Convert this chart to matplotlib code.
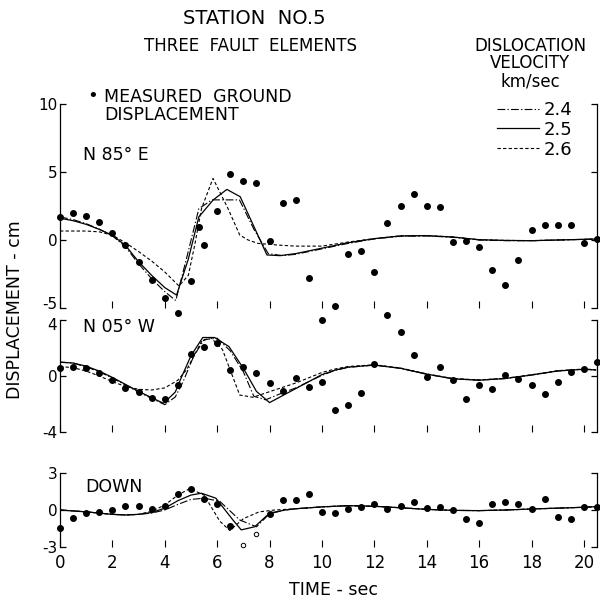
import matplotlib
matplotlib.use("Agg")
import matplotlib.pyplot as plt
import matplotlib.transforms as mtransforms
import numpy as np

plt.rcParams['font.family'] = ['DejaVu Sans']

# ---------------- data ----------------
t_meas = [0.0, 0.5, 1.0, 1.5, 2.0, 2.5, 3.0, 3.5, 4.0, 4.5, 5.0, 5.5, 6.0, 6.5,
          7.0, 7.5, 8.0, 8.5, 9.0, 9.5, 10.0, 10.5, 11.0, 11.5, 12.0, 12.5, 13.0,
          13.5, 14.0, 14.5, 15.0, 15.5, 16.0, 16.5, 17.0, 17.5, 18.0, 18.5, 19.0,
          19.5, 20.0, 20.5]

meas_n85e = [1.67, 1.96, 1.76, 1.3, 0.54, -0.37, -1.64, -2.94, -4.26, -5.37,
             -2.99, -0.39, 2.13, 4.83, 4.34, 4.21, -0.1, 2.7, 2.96, -2.77, -5.88,
             -4.85, -1.03, -0.81, -2.38, 1.27, 2.47, 3.36, 2.5, 2.4, -0.17, -0.05,
             -0.49, -2.18, -3.31, -1.49, 0.71, 1.13, 1.08, 1.1, -0.24, 0.07]
extra_t_n85e = [5.3]
extra_v_n85e = [0.93]

meas_n05w = [0.6, 0.62, 0.55, 0.21, -0.26, -0.83, -1.12, -1.55, -1.62, -0.67,
             1.55, 2.07, 2.36, 0.45, 0.64, 0.21, -0.48, -1.05, -0.17, -0.76, -0.43,
             -2.45, -2.05, -1.24, 0.88, 4.36, 3.12, 1.48, -0.05, 0.64, -0.31, -1.64,
             -0.67, -0.95, 0.05, -0.19, -0.62, -1.26, -0.45, 0.29, 0.5, 0.98]

meas_down = [-1.47, -0.67, -0.27, -0.19, 0.03, 0.35, 0.32, 0.08, 0.3, 1.26, 1.66,
             0.92, 0.51, -1.26, np.nan, np.nan, -0.35, 0.78, 0.78, 1.29, -0.19,
             -0.27, 0.11, 0.24, 0.46, 0.11, 0.32, 0.64, 0.19, 0.24, -0.02, -0.75,
             -1.07, 0.48, 0.68, 0.48, 0.06, 0.89, -0.59, -0.69, 0.22, 0.27]
open_t_down = [7.0, 7.5]
open_v_down = [-2.78, -1.95]

# model curves: N85E
t_n85_24 = [0, 0.5, 1, 1.5, 2, 2.5, 3, 3.5, 4, 4.42, 4.85, 5.3, 5.8, 6.85, 7.4, 7.95,
            8.5, 9, 9.5, 10, 11, 12, 13, 14, 15, 16, 17, 18, 19, 20.45]
v_n85_24 = [1.7, 1.5, 1.2, 0.8, 0.3, -0.5, -1.75, -2.85, -3.8, -4.45, -1.2, 2.3, 2.95,
            2.95, 0.8, -1.0, -1.15, -1.05, -0.85, -0.65, -0.25, 0.08, 0.28, 0.3, 0.2,
            0.0, -0.05, -0.05, 0.0, 0.07]
t_n85_25 = [0, 0.5, 1, 1.5, 2, 2.5, 3, 3.5, 4, 4.45, 4.9, 5.3, 5.85, 6.37, 6.88, 7.4,
            7.9, 8.4, 9, 9.5, 10, 11, 12, 13, 14, 15, 16, 17, 18, 19, 20.45]
v_n85_25 = [1.6, 1.42, 1.15, 0.78, 0.35, -0.4, -1.6, -2.6, -3.5, -4.05, -1.4, 1.7,
            2.95, 3.72, 3.18, 1.0, -1.1, -1.15, -1.0, -0.8, -0.6, -0.2, 0.1, 0.3,
            0.32, 0.22, 0.02, -0.03, -0.05, 0.0, 0.07]
t_n85_26 = [0, 0.5, 1, 1.5, 2, 2.5, 3, 3.5, 4, 4.54, 4.9, 5.15, 5.4, 5.84, 6.41, 6.86,
            7.18, 7.56, 8.3, 9, 10, 11, 12, 13, 14, 15, 16, 17, 18, 19, 20.45]
v_n85_26 = [0.66, 0.66, 0.66, 0.6, 0.35, -0.2, -0.85, -1.55, -2.35, -3.38, -2.6,
            -0.3, 2.3, 4.53, 2.33, 0.37, 0.0, -0.25, -0.37, -0.45, -0.45, -0.15,
            0.1, 0.3, 0.32, 0.22, 0.02, -0.03, -0.05, 0.0, 0.07]

# model curves: N05W
t_n05_24 = [0, 0.5, 1, 1.5, 2, 2.5, 3, 3.5, 4, 4.4, 4.7, 5.1, 5.5, 6.0, 6.5, 7.0, 7.4,
            7.85, 8.5, 9, 10, 10.5, 11, 12, 13, 14, 15, 16, 17, 18, 19, 20, 20.45]
v_n05_24 = [1.0, 0.92, 0.65, 0.3, -0.15, -0.65, -1.15, -1.6, -2.05, -1.5, -0.4, 1.4,
            2.6, 2.7, 1.8, 0.3, -1.45, -1.7, -1.2, -0.85, 0.05, 0.4, 0.62, 0.78, 0.55,
            0.13, -0.2, -0.3, -0.18, 0.07, 0.36, 0.48, 0.43]
t_n05_25 = [0, 0.5, 1, 1.5, 2, 2.5, 3, 3.5, 3.95, 4.4, 4.6, 5.0, 5.45, 5.9, 6.45, 7.0,
            7.5, 8.0, 9, 10, 10.5, 11, 12, 13, 14, 15, 16, 17, 18, 19, 20, 20.45]
v_n05_25 = [0.98, 0.93, 0.7, 0.35, -0.1, -0.6, -1.1, -1.55, -1.95, -1.15, -0.25, 1.45,
            2.75, 2.75, 2.1, 0.55, -1.1, -1.9, -0.9, 0.1, 0.42, 0.63, 0.78, 0.55, 0.13,
            -0.2, -0.3, -0.18, 0.07, 0.36, 0.48, 0.43]
t_n05_26 = [0, 0.5, 1, 1.5, 2, 2.5, 3, 3.5, 4, 4.5, 4.85, 5.4, 5.75, 6.2, 6.86, 7.37,
            7.87, 9, 10, 10.5, 11, 12, 13, 14, 15, 16, 17, 18, 19, 20, 20.45]
v_n05_26 = [0.67, 0.6, 0.35, 0.0, -0.4, -0.75, -0.95, -1.0, -0.85, -0.3, 0.5, 2.45,
            2.75, 1.9, -1.36, -1.52, -1.2, -0.5, 0.25, 0.5, 0.68, 0.8, 0.57, 0.15,
            -0.18, -0.28, -0.16, 0.09, 0.38, 0.5, 0.45]

# model curves: DOWN
t_dn_24 = [0, 1, 2, 2.5, 3, 3.5, 4, 4.5, 5.0, 5.5, 6.1, 6.86, 7.5, 8.0, 8.6, 9, 10,
           11, 12, 13, 14, 15, 16, 17, 18, 19, 20, 20.45]
v_dn_24 = [0.0, -0.15, -0.35, -0.4, -0.35, -0.25, 0.0, 0.45, 0.85, 0.95, 0.7, -0.8,
           -1.35, -0.3, 0.0, 0.1, 0.25, 0.35, 0.3, 0.18, 0.05, -0.03, -0.05, 0.0,
           0.08, 0.15, 0.22, 0.27]
t_dn_25 = [0, 1, 2, 2.5, 3, 3.5, 4, 4.5, 5.0, 5.4, 5.95, 6.6, 6.92, 7.43, 8.0, 8.6, 9,
           10, 11, 12, 13, 14, 15, 16, 17, 18, 19, 20, 20.45]
v_dn_25 = [0.0, -0.15, -0.35, -0.4, -0.35, -0.2, 0.15, 0.75, 1.2, 1.35, 0.95, -0.8,
           -1.6, -1.35, -0.25, 0.0, 0.1, 0.25, 0.35, 0.3, 0.18, 0.05, -0.03, -0.05,
           0.0, 0.08, 0.15, 0.22, 0.27]
t_dn_26 = [0, 1, 2, 2.5, 3, 3.5, 4, 4.5, 4.95, 5.5, 6.1, 6.48, 7.0, 7.6, 8.2, 9, 10,
           11, 12, 13, 14, 15, 16, 17, 18, 19, 20, 20.45]
v_dn_26 = [0.0, -0.15, -0.35, -0.4, -0.35, -0.1, 0.4, 1.2, 1.72, 1.2, -0.9, -1.65,
           -0.7, -0.15, 0.0, 0.1, 0.25, 0.35, 0.3, 0.18, 0.05, -0.03, -0.05, 0.0,
           0.08, 0.15, 0.22, 0.27]

x_ticks = [0, 2, 4, 6, 8, 10, 12, 14, 16, 18, 20]
x_tick_labels = ['0', '2', '4', '6', '8', '10', '12', '14', '16', '18', '20']
velocities = ['2.4', '2.5', '2.6']
panel_names = ['N 85° E', 'N 05° W', 'DOWN']
yticks_n85 = [-5, 0, 5, 10]
yticks_n05 = [-4, 0, 4]
yticks_dn = [-3, 0, 3]

# ---------------- figure ----------------
W, H = 600, 604
fig = plt.figure(figsize=(6.0, 6.04), dpi=100)

def fx(px):
    return px / W

def fy(py):
    return 1 - py / H

left = fx(60)
width = fx(597) - fx(60)
ax1 = fig.add_axes([left, fy(308), width, fy(104) - fy(308)])
ax2 = fig.add_axes([left, fy(432), width, fy(320) - fy(432)])
ax3 = fig.add_axes([left, fy(547.3), width, fy(472.7) - fy(547.3)])

styles = {
    '2.4': dict(color='black', lw=0.8, dashes=(7, 2, 1.2, 2)),
    '2.5': dict(color='black', lw=0.9, linestyle='-'),
    '2.6': dict(color='black', lw=0.8, dashes=(3, 2)),
}

def setup(ax, ylim, yticks, show_xlabels):
    ax.set_xlim(0, 20.5)
    ax.set_ylim(*ylim)
    for s in ['top', 'bottom']:
        ax.spines[s].set_visible(False)
    for s in ['left', 'right']:
        ax.spines[s].set_linewidth(0.9)
    ax.set_yticks(yticks)
    ax.set_yticklabels([str(v) for v in yticks])
    ax.tick_params(axis='y', direction='in', length=4, width=0.9, left=True,
                   right=True, labelsize=11, pad=2)
    ax.set_xticks(x_ticks)
    ax.tick_params(axis='x', direction='in', length=5, width=0.8, bottom=True,
                   top=False, labelsize=12, pad=5)
    if show_xlabels:
        ax.set_xticklabels(x_tick_labels)
    else:
        ax.set_xticklabels([])
    ax.set_facecolor('none')

setup(ax1, (-5, 10), yticks_n85, False)
setup(ax2, (-4, 4), yticks_n05, False)
setup(ax3, (-3, 3), yticks_dn, True)

# nudge the two adjacent labels (-5 of top panel, 4 of middle panel) apart
lab_bottom_top = ax1.get_yticklabels()[0]
lab_bottom_top.set_transform(lab_bottom_top.get_transform() +
                             mtransforms.ScaledTranslation(0, 5 / 100, fig.dpi_scale_trans))
lab_top_mid = ax2.get_yticklabels()[-1]
lab_top_mid.set_transform(lab_top_mid.get_transform() +
                          mtransforms.ScaledTranslation(0, -4 / 100, fig.dpi_scale_trans))

mk = dict(marker='o', linestyle='none', color='black', markersize=4.0, clip_on=False,
          zorder=5)

# N85E
h24, = ax1.plot(t_n85_24, v_n85_24, **styles['2.4'])
h25, = ax1.plot(t_n85_25, v_n85_25, **styles['2.5'])
h26, = ax1.plot(t_n85_26, v_n85_26, **styles['2.6'])
ax1.plot(t_meas, meas_n85e, **mk)
ax1.plot(extra_t_n85e, extra_v_n85e, **mk)

# N05W
ax2.plot(t_n05_24, v_n05_24, **styles['2.4'])
ax2.plot(t_n05_25, v_n05_25, **styles['2.5'])
ax2.plot(t_n05_26, v_n05_26, **styles['2.6'])
ax2.plot(t_meas, meas_n05w, **mk)

# DOWN
ax3.plot(t_dn_24, v_dn_24, **styles['2.4'])
ax3.plot(t_dn_25, v_dn_25, **styles['2.5'])
ax3.plot(t_dn_26, v_dn_26, **styles['2.6'])
ax3.plot(t_meas, meas_down, **mk)
ax3.plot(open_t_down, open_v_down, marker='o', linestyle='none', markersize=3.2,
         markerfacecolor='white', markeredgecolor='black', markeredgewidth=0.7,
         clip_on=False, zorder=5)

# panel labels
fig.text(fx(83), fy(155), panel_names[0], fontsize=12.5, va='center', ha='left')
fig.text(fx(83), fy(327), panel_names[1], fontsize=12.5, va='center', ha='left')
fig.text(fx(85), fy(487), panel_names[2], fontsize=12.5, va='center', ha='left')

# titles
fig.text(fx(254), fy(18), 'STATION  NO.5', fontsize=14, ha='center', va='center')
fig.text(fx(250), fy(46), 'THREE  FAULT  ELEMENTS', fontsize=12, ha='center',
         va='center')
fig.text(fx(530), fy(46), 'DISLOCATION', fontsize=12, ha='center', va='center')
fig.text(fx(530), fy(63), 'VELOCITY', fontsize=12, ha='center', va='center')
fig.text(fx(530), fy(81), 'km/sec', fontsize=12, ha='center', va='center')

# measured legend text
fig.text(fx(93), fy(96), '•', fontsize=13, ha='center', va='center')
fig.text(fx(104), fy(97), 'MEASURED  GROUND', fontsize=12.5, ha='left', va='center')
fig.text(fx(104), fy(115), 'DISPLACEMENT', fontsize=12.5, ha='left', va='center')

# velocity legend
fig.legend([h24, h25, h26], velocities, loc='upper left',
           bbox_to_anchor=(fx(497), fy(101)), frameon=False, fontsize=13,
           handlelength=2.3, handletextpad=0.3, labelspacing=0.1, borderpad=0,
           borderaxespad=0)

# axis labels
fig.text(fx(15), fy(310), 'DISPLACEMENT - cm', rotation=90, fontsize=12.5,
         ha='center', va='center')
fig.text(fx(333), fy(590), 'TIME - sec', fontsize=12.5, ha='center', va='center')

fig.savefig('out.png', dpi=100)
